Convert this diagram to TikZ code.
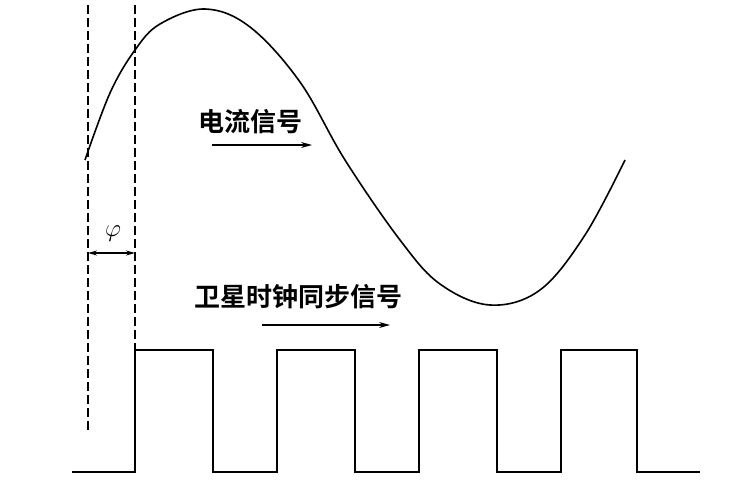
\documentclass[tikz,border=0pt]{standalone}
\usepackage{fontspec}
\newfontfamily\cjk{Noto Sans CJK SC Bold}
\usetikzlibrary{arrows.meta}
\begin{document}
\begin{tikzpicture}[x=1pt,y=-1pt,
  line/.style={line width=1.6pt,black},
  dashline/.style={dash pattern=on 9pt off 4pt,line width=1.3pt},
  lbl/.style={font=\cjk\fontsize{26}{28}\selectfont,inner sep=0pt},
  arr/.style={-{Stealth[length=11pt,width=6pt]},line width=1.3pt}]
\useasboundingbox (0,0) rectangle (744,489);
\draw[line] plot[smooth,tension=0.6] coordinates {(85,160) (110,93) (135,50) (160,24) (205,9) (250,27) (300,82) (345,160) (400,240) (440,284) (490,305) (540,290) (585,235) (625,160)};
\draw[dashline] (88,5) -- (88,430);
\draw[dashline] (135,5) -- (135,430);
\coordinate (pl) at (88,253); \coordinate (pr) at (135,253);
\draw[{Stealth[length=9pt,width=5pt]}-{Stealth[length=9pt,width=5pt]},line width=1.2pt] (pl) -- (pr);
\node (phi) at (113,234) {\fontsize{24}{26}\selectfont$\varphi$};
\draw[line] (72,472) -- (135,472) -- (135,350) -- (213,350) -- (213,472) -- (277,472) -- (277,350) -- (355,350) -- (355,472) -- (419,472) -- (419,350) -- (497,350) -- (497,472) -- (561,472) -- (561,350) -- (637,350) -- (637,472) -- (700,472);
\node[lbl] (t1) at (250,122) {电流信号};
\coordinate (a1s) at (212,145); \coordinate (a1e) at (312,145);
\draw[arr] (a1s) -- (a1e);
\node[lbl] (t2) at (298,297) {卫星时钟同步信号};
\coordinate (a2s) at (262,325); \coordinate (a2e) at (390,325);
\draw[arr] (a2s) -- (a2e);
\end{tikzpicture}
\end{document}
